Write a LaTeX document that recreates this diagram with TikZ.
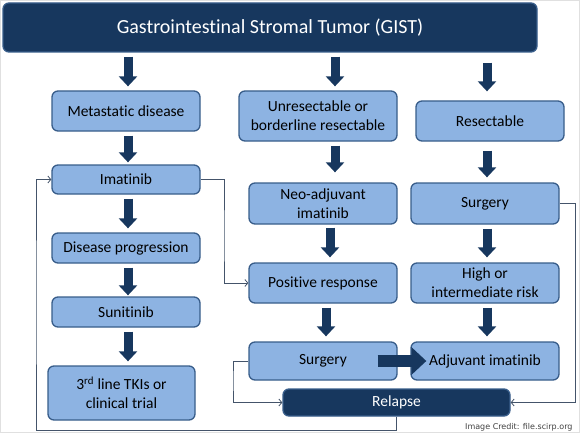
\documentclass[tikz,border=0pt]{standalone}
\usepackage{fontspec}
\setmainfont{Carlito}[Ligatures=NoCommon]
\newfontfamily\creditfont{DejaVu Sans}
\usetikzlibrary{arrows.meta,positioning,calc}
\definecolor{gistNavy}{HTML}{17375E}
\definecolor{gistBlue}{HTML}{8DB3E2}
\definecolor{gistEdge}{HTML}{385D8A}
\definecolor{gistLine}{HTML}{44546A}
\definecolor{gistGrey}{HTML}{404040}
\tikzset{
  gbox/.style={rounded corners=6pt, draw=gistEdge, line width=1.3pt, fill=gistBlue,
              align=center, inner sep=2pt, font=\fontsize{15.5}{19}\selectfont,
              minimum width=148pt},
  gdark/.style={rounded corners=6pt, draw=gistEdge, line width=1.3pt, fill=gistNavy,
              align=center, inner sep=2pt, text=white},
  bigarrow/.style={-{Triangle[width=18pt,length=10pt]}, draw=gistNavy, line width=9pt,
              shorten <=4pt, shorten >=4pt},
  widearrow/.style={-{Triangle[width=27pt,length=15pt]}, draw=gistNavy, line width=12pt},
  flowline/.style={-{Straight Barb[length=3pt,width=7pt]}, draw=gistLine, line width=0.8pt},
  credit/.style={font=\creditfont\fontsize{8}{9}\selectfont, text=gistGrey, anchor=base east},
}

\begin{document}
\begin{tikzpicture}[x=1pt,y=-1pt]
  \useasboundingbox (0,0) rectangle (580,433);
  \draw[black!12,line width=1.2pt] (0.6,0.6) rectangle (579.4,432.4);
  \node[gdark,minimum width=534pt,minimum height=49pt,font=\fontsize{20}{22}\selectfont]
    (gist) at (270,27.5) {Gastrointestinal Stromal Tumor (GIST)};

  % metastatic branch
  \node[gbox,minimum height=40pt] (meta) at (126,111) {Metastatic disease};
  \node[gbox,minimum height=29pt] (imat) at (126,179.5) {Imatinib};
  \node[gbox,minimum height=30pt] (prog) at (126,248) {Disease progression};
  \node[gbox,minimum height=30pt] (suni) at (126,312) {Sunitinib};
  \node[gbox,minimum width=147pt,minimum height=54pt] (third) at (121.5,393)
    {3\textsuperscript{rd} line TKIs or\\clinical trial};

  % unresectable branch
  \node[gbox,minimum width=158pt,minimum height=50pt] (unres) at (318,116)
    {Unresectable or\\borderline resectable};
  \node[gbox,minimum height=41pt] (neo) at (323,203.5) {Neo-adjuvant\\imatinib};
  \node[gbox,minimum height=40pt] (pos) at (323,283) {Positive response};
  \node[gbox,minimum height=38pt] (surgA) at (323,361) {Surgery};

  % resectable branch
  \node[gbox,minimum height=40pt] (resec) at (490,121) {Resectable};
  \node[gbox,minimum height=41pt] (surgB) at (485,203.5) {Surgery};
  \node[gbox,minimum height=40pt] (risk) at (485,283) {High or\\intermediate risk};
  \node[gbox,minimum height=38pt] (adjuv) at (485,361) {Adjuvant imatinib};

  \node[gdark,minimum width=227pt,minimum height=27pt,font=\fontsize{15.5}{17}\selectfont]
    (relapse) at (396.5,402.5) {Relapse};

  % block arrows
  \draw[bigarrow] ([xshift=2pt]gist.south -| meta) -- ([xshift=2pt]meta.north);
  \draw[bigarrow] ([xshift=17pt]gist.south -| unres) -- ([xshift=17pt]unres.north);
  \draw[bigarrow,shorten <=10pt,shorten >=9pt] ([xshift=-3pt]gist.south -| resec) -- ([xshift=-3pt]resec.north);
  \draw[bigarrow,shorten >=2pt] ([xshift=2pt]meta.south) -- ([xshift=2pt]imat.north);
  \draw[bigarrow] ([xshift=2pt]imat.south) -- ([xshift=2pt]prog.north);
  \draw[bigarrow,shorten >=1pt] ([xshift=2pt]prog.south) -- ([xshift=2pt]suni.north);
  \draw[bigarrow] ([xshift=2pt]suni.south) -- ([xshift=2pt]suni.south |- third.north);
  \draw[bigarrow,shorten >=10pt] ([xshift=17pt]unres.south) -- ([xshift=17pt]unres.south |- neo.north);
  \draw[bigarrow,shorten <=3pt,shorten >=5pt] ([xshift=7pt]neo.south) -- ([xshift=7pt]pos.north);
  \draw[bigarrow,shorten >=5pt] ([xshift=3pt]pos.south) -- ([xshift=3pt]surgA.north);
  \draw[bigarrow,shorten <=9pt,shorten >=5pt] ([xshift=-3pt]resec.south) -- ([xshift=-3pt]resec.south |- surgB.north);
  \draw[bigarrow,shorten >=5pt] ([xshift=2pt]surgB.south) -- ([xshift=2pt]risk.north);
  \draw[bigarrow,shorten >=5pt] ([xshift=2pt]risk.south) -- ([xshift=2pt]adjuv.north);
  \draw[widearrow,shorten <=-20pt,shorten >=-16pt] (surgA.east) -- (adjuv.west);

  % thin connectors
  \draw[flowline] (imat.east) -| (224,240) |- (pos.west);
  \draw[flowline] (surgA.west) -| (233,380) |- (relapse.west);
  \draw[flowline] (surgB.east) -| (575,300) |- (relapse.east);
  \coordinate (loopdown) at (relapse.south |- 0,430);
  \draw[flowline] (relapse.south) -- (loopdown) -| (36,300) |- (imat.west);

  \node[credit] (cred) at (576,429) {Image Credit: file.scirp.org};
\end{tikzpicture}
\end{document}
